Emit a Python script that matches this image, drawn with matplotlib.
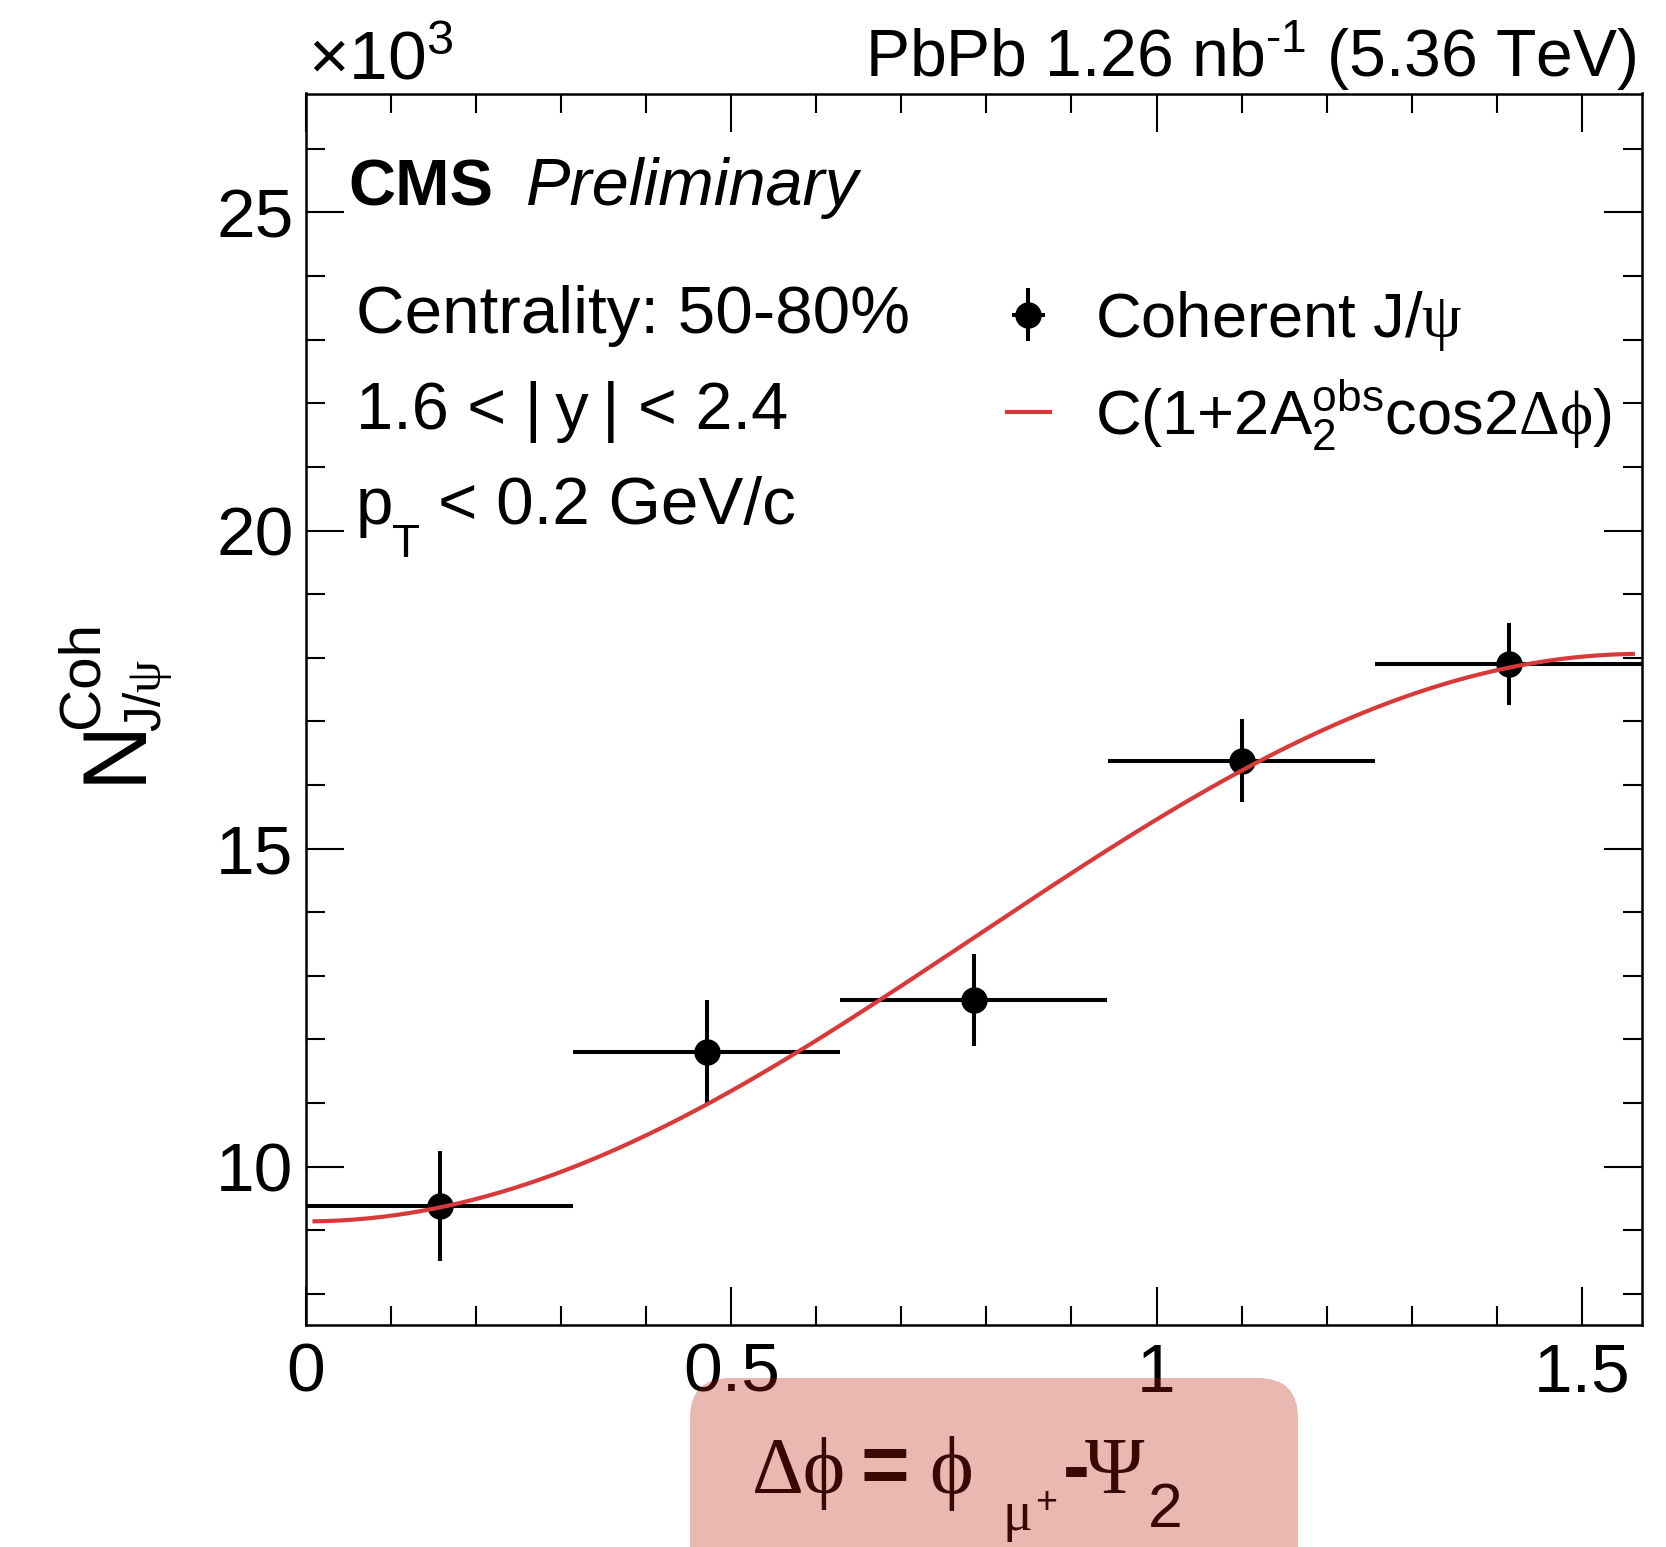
import numpy as np
import matplotlib
matplotlib.use("Agg")
import matplotlib.pyplot as plt
from matplotlib.patches import FancyBboxPatch
from matplotlib.ticker import MultipleLocator
from matplotlib.legend_handler import HandlerErrorbar
from matplotlib.container import ErrorbarContainer

# ---------------- data ----------------
dphi_center = [0.157, 0.471, 0.785, 1.100, 1.414]
dphi_halfwidth = [0.157, 0.157, 0.157, 0.157, 0.157]
n_coh = [9.38, 11.80, 12.62, 16.38, 17.90]          # x10^3
n_coh_err = [0.86, 0.82, 0.72, 0.65, 0.65]          # x10^3
fit_C = 13.60                                        # x10^3
fit_A2 = -0.164
fit_range = [0.01, 1.56]
x_ticks = [0, 0.5, 1, 1.5]
x_ticklabels = ["0", "0.5", "1", "1.5"]
y_ticks = [10, 15, 20, 25]
y_ticklabels = ["10", "15", "20", "25"]

plt.rcParams["font.family"] = ["Liberation Sans", "DejaVu Sans"]
plt.rcParams["mathtext.fontset"] = "custom"
plt.rcParams["mathtext.rm"] = "Liberation Sans"
plt.rcParams["mathtext.it"] = "Liberation Sans:italic"
plt.rcParams["mathtext.bf"] = "Liberation Sans:bold"
plt.rcParams["mathtext.sf"] = "Liberation Sans"
plt.rcParams["mathtext.cal"] = "Liberation Serif"

W, H = 1666, 1547
fig = plt.figure(figsize=(W / 100, H / 100), dpi=100)

ax_l, ax_r, ax_t, ax_b = 306, 1642, 93.5, 1325
ax = fig.add_axes([ax_l / W, 1 - ax_b / H, (ax_r - ax_l) / W, (ax_b - ax_t) / H])

red = "#d83a3a"
xf = np.linspace(fit_range[0], fit_range[1], 400)
yf = fit_C * (1 + 2 * fit_A2 * np.cos(2 * xf))
fit_line, = ax.plot(xf, yf, color=red, lw=3.0, zorder=3,
                    label=r"C(1+2A$^{\mathrm{obs}}_{\mathrm{2}}$cos2$\mathcal{\Delta\phi}$)")
eb = ax.errorbar(dphi_center, n_coh, xerr=dphi_halfwidth, yerr=n_coh_err,
                 fmt="o", color="black", ms=18, elinewidth=2.9, capsize=0, zorder=2,
                 label=r"Coherent J/$\mathcal{\psi}$")

ax.set_xlim(0, np.pi / 2)
ax.set_ylim(7.51, 26.87)
ax.set_xticks(x_ticks)
ax.set_xticklabels(x_ticklabels)
ax.set_yticks(y_ticks)
ax.set_yticklabels(y_ticklabels)
ax.xaxis.set_minor_locator(MultipleLocator(0.1))
ax.yaxis.set_minor_locator(MultipleLocator(1))
ax.tick_params(which="both", direction="in", top=True, right=True, width=1.5,
               labelsize=50)
ax.tick_params(which="major", length=27.5)
ax.tick_params(which="minor", length=13.7)
ax.tick_params(axis="x", which="major", pad=12)
ax.tick_params(axis="y", which="major", pad=9)
for s in ax.spines.values():
    s.set_linewidth(1.8)

# legend
leg = ax.legend(handles=[eb, fit_line], loc="upper left",
                bbox_to_anchor=(1007 / W, 1 - 289 / H), bbox_transform=fig.transFigure,
                frameon=False, fontsize=45.5, borderpad=0, borderaxespad=0,
                handlelength=0.68, handletextpad=0.72, labelspacing=0.38,
                handler_map={ErrorbarContainer: HandlerErrorbar(xerr_size=0.26, yerr_size=0.42)})

# pixel-coordinate overlay axes for free text
pax = fig.add_axes([0, 0, 1, 1], zorder=5)
pax.set_xlim(0, W)
pax.set_ylim(H, 0)
pax.axis("off")

def t(x, y, s, size, **kw):
    kw.setdefault("ha", "left")
    kw.setdefault("va", "baseline")
    return pax.text(x, y, s, fontsize=size, **kw)

t(308, 80, r"×10$^{\mathrm{3}}$", 50)
t(1636, 77, r"PbPb 1.26 nb$^{\text{-1}}$ (5.36 TeV)", 47.5, ha="right")
t(348, 205, "CMS", 47, fontweight="bold")
t(526, 205, "Preliminary", 48, fontstyle="italic")
t(356, 333, "Centrality: 50-80%", 48.5)
t(356, 429, "1.6 < |\u2009y\u2009| < 2.4", 48)
t(356, 524, "p", 48.5)
t(392, 557, "T", 33)
t(438, 524, "< 0.2 GeV/c", 48.5)

# y label (rotated)
rk = dict(rotation=90, rotation_mode="anchor")
t(140, 783, "N", 65, **rk)
t(98, 728, "Coh", 42, **rk)
t(161, 732, r"J/$\mathcal{\psi}$", 37, **rk)

# x label pieces
serif = ["Liberation Serif", "DejaVu Serif"]
t(752, 1493, "Δϕ", 58, family=serif)
t(861, 1493, "=", 60, fontweight="bold")
t(929, 1493, "ϕ", 60, family=serif)
t(1003, 1530, "μ", 40, family=serif)
t(1035, 1513, "+", 27)
t(1063, 1493, "-", 58, fontweight="bold")
t(1085, 1493, "Ψ", 58, family=serif)
t(1148, 1527, "2", 45)

# translucent highlight box over the x label
box = FancyBboxPatch((690, 1378), 608, 260, boxstyle="round,pad=0,rounding_size=40",
                     fc=(0.733, 0.102, 0.024), ec="none", alpha=0.31, zorder=10)
pax.add_patch(box)

fig.savefig("out.png", dpi=100)
